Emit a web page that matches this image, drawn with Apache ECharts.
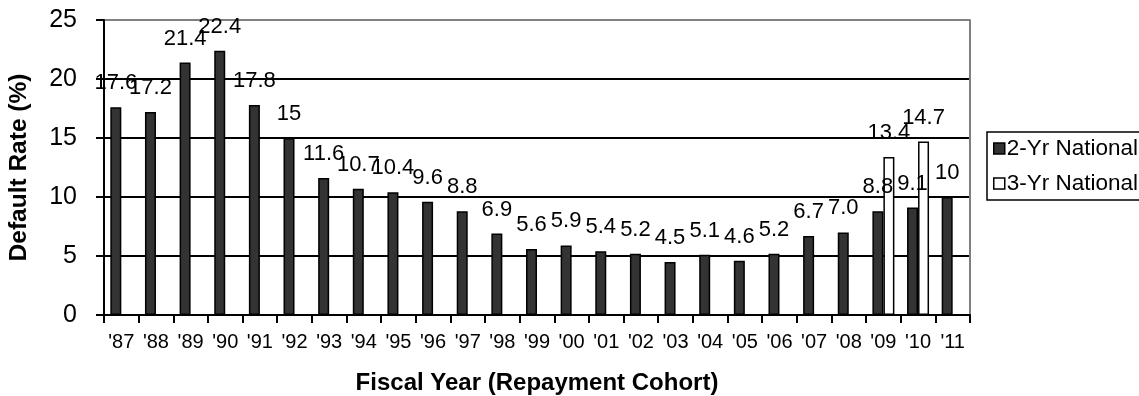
<!DOCTYPE html>
<html>
<head>
<meta charset="utf-8">
<script src="https://cdn.jsdelivr.net/npm/echarts@6/dist/echarts.min.js"></script>
<style>
  html, body { margin: 0; padding: 0; background: #fff; }
  #chart { width: 1139px; height: 396px; }
</style>
</head>
<body>
<div id="chart"></div>
<script>
// Fiscal-year repayment cohorts
const cohorts = ["'87","'88","'89","'90","'91","'92","'93","'94","'95","'96","'97","'98","'99","'00","'01","'02","'03","'04","'05","'06","'07","'08","'09","'10","'11"];

// Two-year national default rates, as published (text kept for the labels)
const twoYearRates = ['17.6','17.2','21.4','22.4','17.8','15','11.6','10.7','10.4','9.6','8.8','6.9','5.6','5.9','5.4','5.2','4.5','5.1','4.6','5.2','6.7','7.0','8.8','9.1','10'];

// Three-year national default rates (only reported for the latest cohorts)
const threeYearRates = [null,null,null,null,null,null,null,null,null,null,null,null,null,null,null,null,null,null,null,null,null,null,'13.4','14.7',null];

// Value axis ticks
const yTicks = { min: 0, max: 25, step: 5 };

const FONT = "'Liberation Sans', Arial, Helvetica, sans-serif";

const toPoint = s => (s === null ? null : { value: Number(s), text: s });

const chart = echarts.init(document.getElementById('chart'), null, { renderer: 'canvas' });

const barLabel = {
  show: true,
  position: 'top',
  distance: 13,
  color: '#000',
  fontFamily: FONT,
  fontSize: 22,
  formatter: p => p.data.text
};

chart.setOption({
  animation: false,
  backgroundColor: '#fff',
  textStyle: { fontFamily: FONT },
  grid: { left: 104, right: 169, top: 20, bottom: 81, containLabel: false, outerBoundsMode: 'none' },
  legend: {
    orient: 'vertical',
    left: 987,
    top: 132,
    padding: [5, 60, 5, 6],
    itemGap: 12,
    itemWidth: 11,
    itemHeight: 11,
    itemStyle: { borderColor: '#000', borderWidth: 1.5 },
    borderColor: '#000',
    borderWidth: 1.5,
    textStyle: { fontSize: 22.5, color: '#000', fontFamily: FONT, padding: [0, 0, 0, -3] },
    data: [
      { name: '2-Yr National', icon: 'rect' },
      { name: '3-Yr National', icon: 'rect' }
    ]
  },
  xAxis: {
    type: 'category',
    data: cohorts,
    boundaryGap: true,
    name: 'Fiscal Year (Repayment Cohort)',
    nameLocation: 'middle',
    nameGap: 56,
    nameTextStyle: { fontSize: 24, fontWeight: 'bold', color: '#000', fontFamily: FONT },
    axisLine: { lineStyle: { color: '#000', width: 2 } },
    axisTick: { show: true, interval: 0, length: 8, lineStyle: { color: '#000', width: 2 } },
    axisLabel: { interval: 0, fontSize: 20, color: '#000', margin: 17, fontFamily: FONT },
    splitLine: { show: false }
  },
  yAxis: [
    {
      type: 'value',
      min: yTicks.min,
      max: yTicks.max,
      interval: yTicks.step,
      name: 'Default Rate (%)',
      nameLocation: 'middle',
      nameGap: 72,
      nameTextStyle: { fontSize: 24.5, fontWeight: 'bold', color: '#000', fontFamily: FONT },
      axisLine: { show: true, lineStyle: { color: '#000', width: 2 } },
      axisTick: { show: true, length: 8, lineStyle: { color: '#000', width: 2 } },
      axisLabel: { fontSize: 25, color: '#000', margin: 27, fontFamily: FONT },
      splitLine: {
        show: true,
        lineStyle: { color: ['#000', '#000', '#000', '#000', '#000', '#808080'], width: 2 }
      }
    },
    {
      type: 'value',
      position: 'right',
      min: yTicks.min,
      max: yTicks.max,
      interval: yTicks.step,
      axisLine: { show: true, lineStyle: { color: '#808080', width: 2 } },
      axisTick: { show: false },
      axisLabel: { show: false },
      splitLine: { show: false }
    }
  ],
  series: [
    {
      name: '2-Yr National',
      type: 'bar',
      barWidth: 11,
      barGap: '0%',
      data: twoYearRates.map(toPoint),
      itemStyle: { color: '#333333', borderColor: '#000', borderWidth: 1.5 },
      label: barLabel
    },
    {
      name: '3-Yr National',
      type: 'bar',
      barWidth: 11,
      barGap: '0%',
      data: threeYearRates.map(toPoint),
      itemStyle: { color: '#ffffff', borderColor: '#000', borderWidth: 1.5 },
      label: barLabel
    }
  ]
});
</script>
</body>
</html>
